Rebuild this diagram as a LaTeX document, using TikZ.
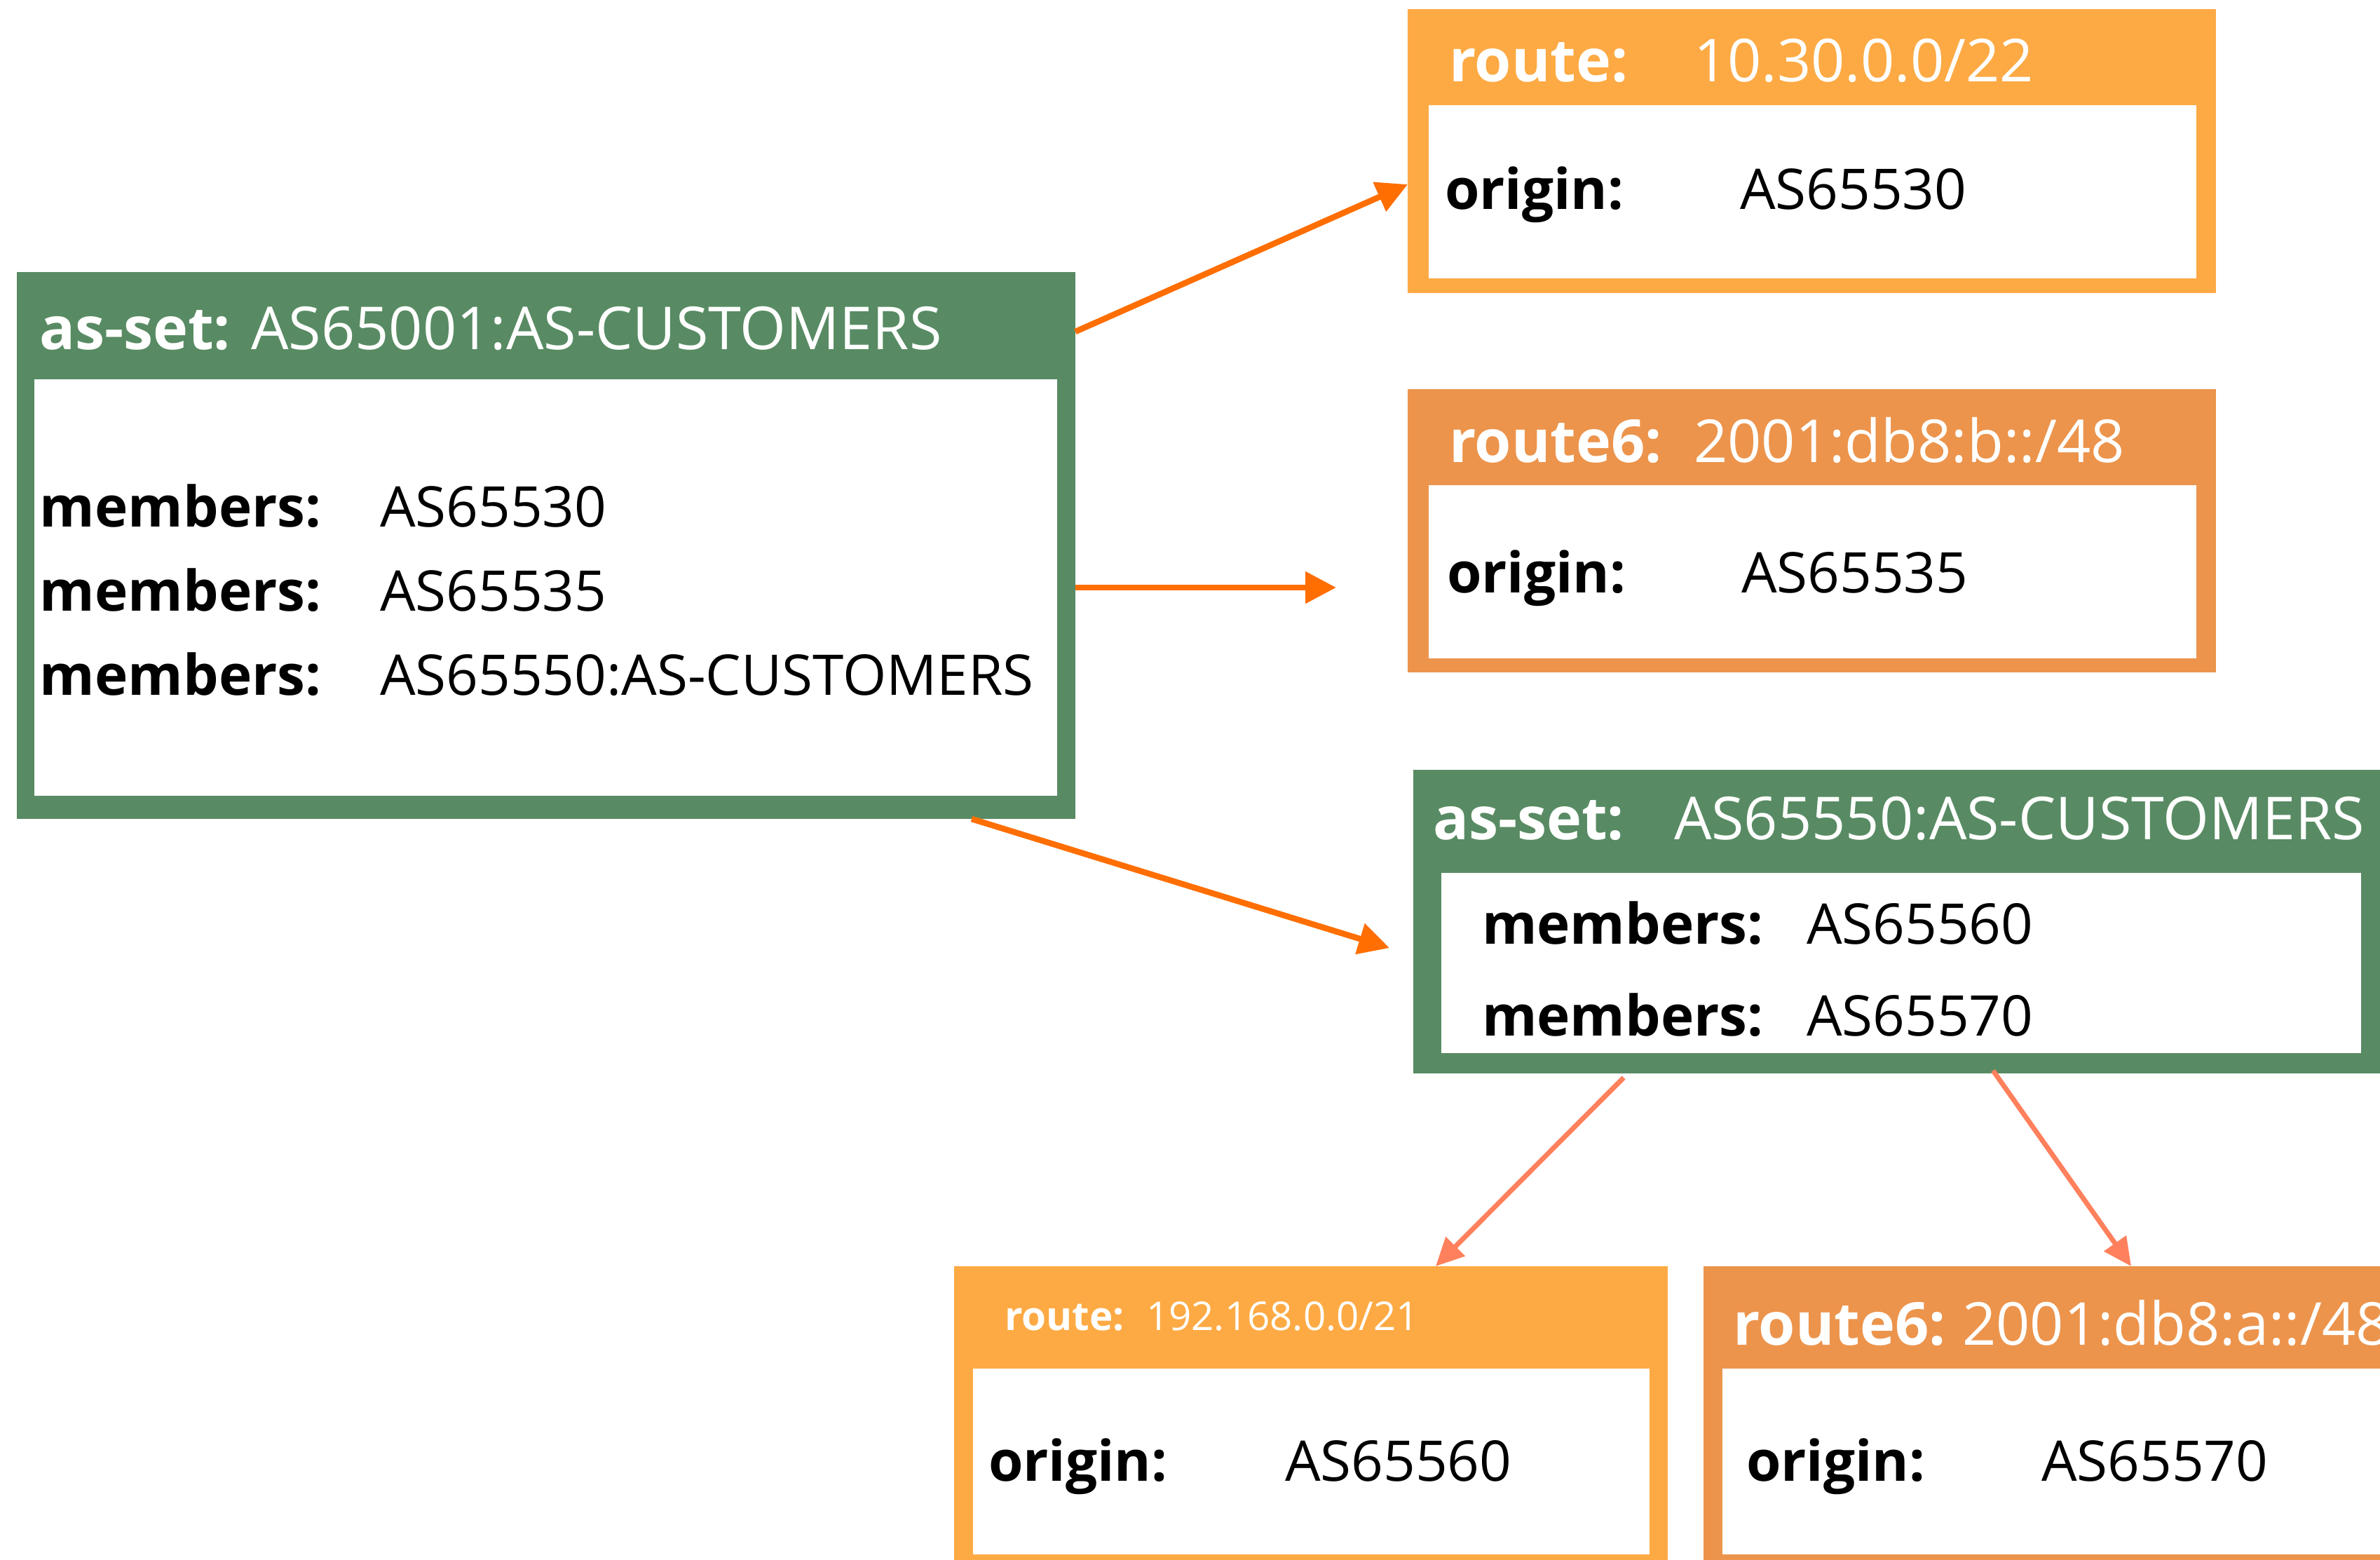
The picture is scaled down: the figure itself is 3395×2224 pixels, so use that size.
\documentclass[tikz,border=0pt]{standalone}
\usepackage{fontspec}
\setmainfont{Open Sans}
\usetikzlibrary{calc,arrows.meta}
\definecolor{boxgreen}{RGB}{88,139,99}
\definecolor{routeor}{RGB}{253,170,68}
\definecolor{routesix}{RGB}{236,148,76}
\definecolor{arrorange}{RGB}{255,110,0}
\definecolor{arrcoral}{RGB}{255,128,92}
\newcommand\rbox[6]{%
  \node[fill=#6, inner sep=0pt, outer sep=0pt, anchor=north west,
        minimum width={(#4-#2)*0.2pt}, minimum height={(#5-#3)*0.2pt}] (#1) at (#2,#3) {};}
\begin{document}
\begin{tikzpicture}[x=0.2pt,y=-0.2pt,
  txt/.style={inner sep=0pt, outer sep=0pt, anchor=base west, font=\fontsize{16pt}{19pt}\selectfont},
  htxt/.style={txt, text=white, font=\fontsize{16.9pt}{20pt}\selectfont},
  hbold/.style={htxt, font=\fontsize{16.9pt}{20pt}\selectfont\bfseries},
  kbold/.style={txt, font=\fontsize{16pt}{19pt}\selectfont\bfseries},
  smallh/.style={htxt, font=\fontsize{11.3pt}{13pt}\selectfont},
  smallhb/.style={htxt, font=\fontsize{11.3pt}{13pt}\selectfont\bfseries},
  arr/.style={draw=arrorange, line width=1.7pt, -{Triangle[length=8.8pt,width=8.8pt]}},
  arrc/.style={draw=arrcoral, line width=1.4pt, -{Triangle[length=8pt,width=7.5pt]}}]
\useasboundingbox (0,0) rectangle (3395,2224);
\clip (0,0) rectangle (3395,2224);
\fill[white] (0,0) rectangle (3395,2224);

% main as-set
\rbox{main}{24}{388}{1534}{1168}{boxgreen}
\rbox{maini}{49}{541}{1508}{1135}{white}
\node[hbold] (mainh) at (56,498) {as-set: \mdseries AS65001:AS-CUSTOMERS};
\node[kbold] (mk1) at (57,751) {members:};
\node[kbold] (mk2) at (57,871) {members:};
\node[kbold] (mk3) at (57,991) {members:};
\node[txt] (mv1) at (542,751) {AS65530};
\node[txt] (mv2) at (542,871) {AS65535};
\node[txt] (mv3) at (542,991) {AS65550:AS-CUSTOMERS};

% route 1
\rbox{rone}{2008}{13}{3161}{418}{routeor}
\rbox{ronei}{2038}{150}{3133}{397}{white}
\node[hbold] (r1k) at (2067,117) {route:};
\node[htxt] (r1v) at (2416,117) {10.30.0.0/22};
\node[kbold] (r1ok) at (2061,299) {origin:};
\node[txt] (r1ov) at (2482,299) {AS65530};

% route6 b
\rbox{rsix}{2008}{555}{3161}{959}{routesix}
\rbox{rsixi}{2038}{692}{3133}{939}{white}
\node[hbold] (r6k) at (2067,659) {route6:};
\node[htxt] (r6v) at (2416,659) {2001:db8:b::/48};
\node[kbold] (r6ok) at (2064,845) {origin:};
\node[txt] (r6ov) at (2484,845) {AS65535};

% as-set 2
\rbox{astwo}{2016}{1098}{3408}{1531}{boxgreen}
\rbox{astwoi}{2056}{1245}{3368}{1502}{white}
\node[hbold] (a2k) at (2044,1197) {as-set:};
\node[htxt] (a2v) at (2388,1197) {AS65550:AS-CUSTOMERS};
\node[kbold] (a2m1) at (2114,1346) {members:};
\node[kbold] (a2m2) at (2114,1477) {members:};
\node[txt] (a2v1) at (2577,1346) {AS65560};
\node[txt] (a2v2) at (2577,1477) {AS65570};

% bottom left route
\rbox{bl}{1361}{1806}{2379}{2240}{routeor}
\rbox{bli}{1388}{1952}{2353}{2217}{white}
\node[smallhb] (blk) at (1433,1897) {route:};
\node[smallh] (blv) at (1635,1897) {192.168.0.0/21};
\node[kbold] (blok) at (1410,2112) {origin:};
\node[txt] (blov) at (1833,2112) {AS65560};

% bottom right route6
\rbox{br}{2430}{1806}{3440}{2240}{routesix}
\rbox{bri}{2457}{1952}{3413}{2217}{white}
\node[hbold] (brk) at (2472,1918) {route6:};
\node[htxt] (brv) at (2799,1918) {2001:db8:a::/48};
\node[kbold] (brok) at (2491,2112) {origin:};
\node[txt] (brov) at (2912,2112) {AS65570};

% connectors
\coordinate (atwoend) at (1906,838);
\coordinate (athreeend) at (1982,1352);
\draw[arr] ($(main.north east)+(0,85)$) -- ($(rone.north west)+(0,250)$);
\draw[arr] ($(main.north east)+(0,450)$) -- (atwoend);
\draw[arr] ($(main.south west)+(1362,0)$) -- (athreeend);
\draw[arrc] ($(astwo.south west)+(300,6)$) -- ($(bl.north west)+(687,0)$);
\draw[arrc] ($(astwo.south west)+(827,-4)$) -- ($(br.north west)+(610,0)$);
\end{tikzpicture}
\end{document}
